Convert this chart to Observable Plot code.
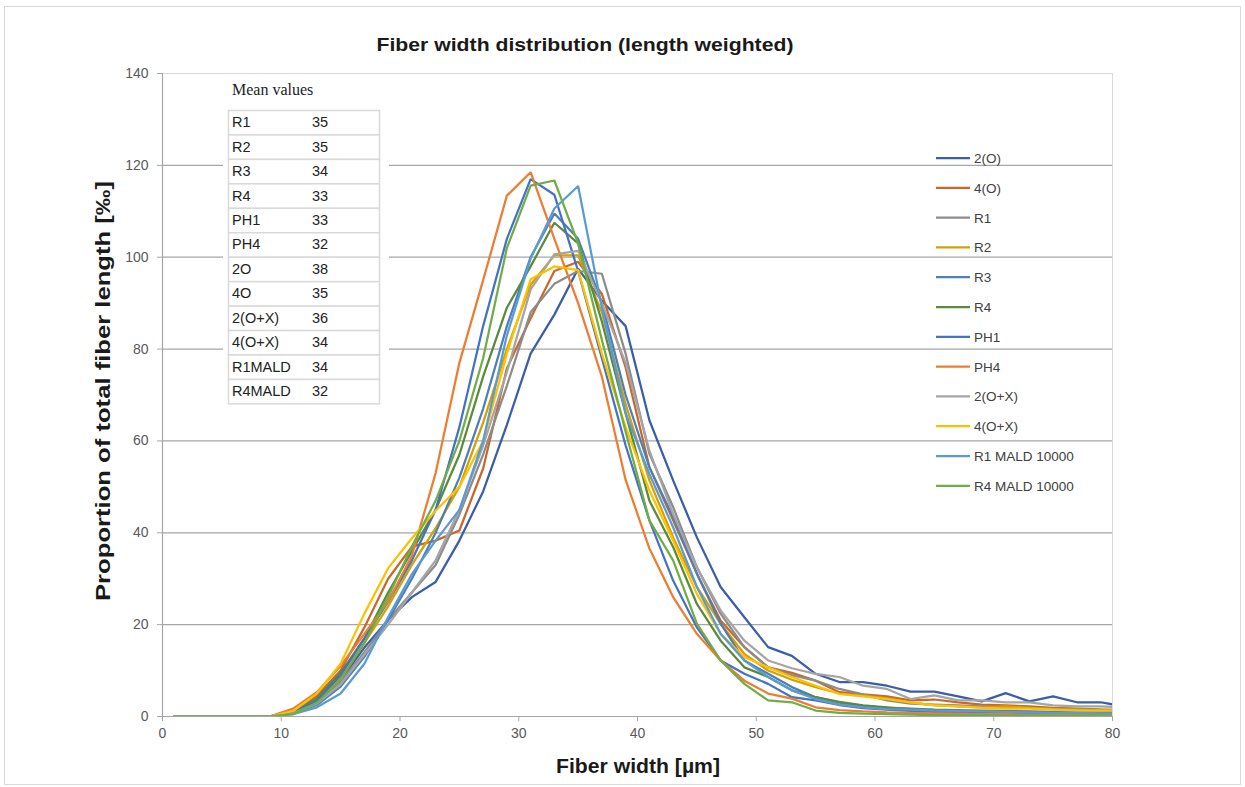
<!DOCTYPE html>
<html><head><meta charset="utf-8">
<script src="https://cdn.jsdelivr.net/npm/d3@7"></script>
<script src="https://cdn.jsdelivr.net/npm/@observablehq/plot@0.6"></script>
<style>body{margin:0;background:#fff;}</style>
</head><body><div id="chart"></div>
<script>
// ---- data ----
const widths = [1,3,5,7,9,11,13,15,17,19,21,23,25,27,29,31,33,35,37,39,41,43,45,47,49,51,53,55,57,59,61,63,65,67,69,71,73,75,77,79,81];
const s2O   = [0,0,0,0,0,0.8,3,8,15,21,26,29.3,38.3,49,63.5,79,87.5,97.5,90.5,85,64.5,51.4,39,28.2,21.6,15.1,13.2,9.3,7.5,7.5,6.7,5.4,5.4,4.4,3.3,5.1,3.3,4.4,3.1,3.1,2.2];
const s4O   = [0,0,0,0,0,1.2,4.5,10,19.4,30,37,38.3,40.5,54,75.8,86.7,97,99,92,76,54.3,42.7,31.1,20.9,15.1,10.7,9.5,7.8,5.3,4.8,4.4,3.5,3.7,3.1,2.6,2.4,2.2,1.9,1.7,1.5,1.4];
const sR1   = [0,0,0,0,0,0.8,3,7.5,14,21,27,33,44,57,72,88,94.2,97,96.4,79,57.2,45.6,32.5,22.4,15.1,10.7,9,7.8,6,4.8,3.5,2.8,2.6,2.4,2.2,2,1.9,1.7,1.6,1.5,1.4];
const sR2   = [0,0,0,0,0,1,3.5,8.5,16,24,33,41,50,64,80,94,100.4,100.4,88,68,51.4,39,28.2,20.2,13.6,10,8,6.4,5,4.5,4,3,2.5,2.2,2,2.2,1.9,1.6,1.5,1.3,1.2];
const sR3   = [0,0,0,0,0,0.7,2.5,6.5,13,21,30,40,52,67,85,100,109.5,104,90,70,54.3,43.4,31.1,20.2,12.2,9.3,6.4,4.2,3,2.3,1.9,1.7,1.5,1.4,1.3,1.2,1.1,1.0,1.0,0.9,0.9];
const sR4   = [0,0,0,0,0,1,4,9.5,17,27,36,45,57,74,89,98,107.5,103,86,66,47,36.9,24.5,16.5,10.7,8.6,5.7,4.2,3.2,2.4,2,1.6,1.4,1.2,1.1,1,0.9,0.8,0.7,0.7,0.6];
const sPH1  = [0,0,0,0,0,0.8,3.5,9,17,25,34,45,63,85,104,117,113.6,97,78,59,42.7,29.6,19.4,12.2,9.3,7.1,4.2,3.5,2.5,1.8,1.5,1.2,1,0.9,0.8,0.8,0.7,0.6,0.5,0.5,0.5];
const sPH4  = [0,0,0,0,0,1.7,5.3,11,18,25,35,53,77,95,113.4,118.5,104,90,74,51.5,36.6,26,18,12.2,7.8,5,3.9,2,1.4,1.1,0.9,0.8,0.7,0.6,0.5,0.5,0.4,0.4,0.3,0.3,0.3];
const s2OX  = [0,0,0,0,0,0.7,2.8,7,13.5,20,27,34,45,59,75,93,100.6,101.4,90,77,57.9,44.1,32.5,23.1,16.5,12.2,10.5,9.3,8.6,6.7,6,3.8,4.6,3.5,3.5,3.1,3.1,2.4,2.2,2.2,2];
const s4OX  = [0,0,0,0,0,1.2,5,11.5,22.4,32.3,38.8,44.8,50,60,79,95.2,98,97.2,79,63,49.2,38.3,26.7,18,12.9,10.7,8.6,6.7,4.9,4.4,3.8,3.1,2.4,2.2,1.9,1.7,1.7,1.5,1.3,1.3,1.2];
const sR1M  = [0,0,0,0,0,0.5,2,5,11.5,21.6,31,38.3,45,60,83,99.7,110.6,115.5,89,66,52.8,41.2,28.2,18,12.2,8.6,5.7,3.8,2.6,2,1.6,1.5,1.3,1.2,1.1,1,0.9,0.8,0.8,0.7,0.7];
const sR4M  = [0,0,0,0,0,0.5,3,8,16,26,37,47,60,78,102,115.6,116.7,103,82,62,42.7,34,20.2,12.2,7.1,3.5,3.1,1.3,0.8,0.6,0.5,0.4,0.3,0.3,0.3,0.2,0.2,0.2,0.2,0.2,0.2];

const seriesNames  = ["2(O)","4(O)","R1","R2","R3","R4","PH1","PH4","2(O+X)","4(O+X)","R1 MALD 10000","R4 MALD 10000"];
const seriesValues = [s2O,s4O,sR1,sR2,sR3,sR4,sPH1,sPH4,s2OX,s4OX,sR1M,sR4M];
const seriesColors = ["#3a5ea8","#c8682c","#8c8c8c","#d3a100","#4e7fb8","#5a8a3a","#4472c4","#ed7d31","#a5a5a5","#ffc000","#5b9bd5","#70ad47"];

const meanLabels = ["R1","R2","R3","R4","PH1","PH4","2O","4O","2(O+X)","4(O+X)","R1MALD","R4MALD"];
const meanValues = [35,35,34,33,33,32,38,35,36,34,34,32];

const yTicks = [0,20,40,60,80,100,120,140];
const xTicks = [0,10,20,30,40,50,60,70,80];

const titleText = "Fiber width distribution (length weighted)";
const xLabel = "Fiber width [µm]";
const yLabel = "Proportion of total fiber length [‰]";
const tableTitle = "Mean values";

// ---- build table for Plot ----
const rows = [];
seriesNames.forEach((name, i) => {
  seriesValues[i].forEach((v, j) => rows.push({series: name, x: widths[j], y: v}));
});

const W = 1245, H = 787;
const chart = Plot.plot({
  width: W, height: H,
  marginLeft: 162, marginRight: 133, marginTop: 73, marginBottom: 71,
  style: {fontFamily: "'Liberation Sans', Arial, sans-serif", fontSize: "14px", background: "white", color: "#595959"},
  x: {domain: [0, 80]},
  y: {domain: [0, 140]},
  color: {domain: seriesNames, range: seriesColors},
  marks: [
    Plot.frame({stroke: "#d9d9d9"}),
    Plot.gridY(yTicks.slice(1, -1), {stroke: "#a6a6a6", strokeOpacity: 1, strokeWidth: 1.2}),
    Plot.ruleX([0], {stroke: "#a6a6a6", strokeWidth: 1.2}),
    Plot.ruleY([0], {stroke: "#a6a6a6", strokeWidth: 1.2}),
    Plot.axisX(xTicks, {tickSize: 5, tickPadding: 7, stroke: "#a6a6a6", fill: "#595959", label: null, fontSize: 14}),
    Plot.axisY(yTicks, {tickSize: 5, tickPadding: 9, stroke: "#a6a6a6", fill: "#595959", label: null, fontSize: 14}),
    Plot.line(rows, {x: "x", y: "y", z: "series", stroke: "series", strokeWidth: 2.25, clip: true, strokeLinejoin: "miter"})
  ]
});
document.getElementById("chart").appendChild(chart);

// ---- annotations ----
const svg = d3.select(chart);
svg.insert("rect", ":first-child")
  .attr("x", 4.5).attr("y", 6.5).attr("width", 1236).attr("height", 778)
  .attr("fill", "white").attr("stroke", "#d9d9d9");

svg.append("text").attr("x", 585).attr("y", 51).attr("text-anchor", "middle")
  .attr("textLength", 417).attr("lengthAdjust", "spacingAndGlyphs")
  .style("font", "bold 19px 'Liberation Sans', Arial, sans-serif").attr("fill", "#1a1a1a").text(titleText);

svg.append("text").attr("x", 638).attr("y", 773).attr("text-anchor", "middle")
  .attr("textLength", 164).attr("lengthAdjust", "spacingAndGlyphs")
  .style("font", "bold 20px 'Liberation Sans', Arial, sans-serif").attr("fill", "#1a1a1a").text(xLabel);

svg.append("text").attr("transform", "translate(110,391) rotate(-90)").attr("text-anchor", "middle")
  .attr("textLength", 420).attr("lengthAdjust", "spacingAndGlyphs")
  .style("font", "bold 21px 'Liberation Sans', Arial, sans-serif").attr("fill", "#1a1a1a").text(yLabel);

// mean values table
const tx0 = 228, tx1 = 379, ty0 = 110, rowH = 24.45;
svg.append("rect").attr("x", 223).attr("y", 74).attr("width", 166).attr("height", 338).attr("fill", "white");
svg.append("text").attr("x", 232).attr("y", 95).attr("text-anchor", "start")
  .style("font", "16px 'Liberation Serif', 'Times New Roman', serif").attr("fill", "#222").text(tableTitle);
const tg = svg.append("g").attr("text-anchor", "start");
meanLabels.forEach((lab, i) => {
  const y = ty0 + i * rowH;
  tg.append("rect").attr("x", tx0 + 0.5).attr("y", y + 0.5).attr("width", tx1 - tx0).attr("height", rowH)
    .attr("fill", "white").attr("stroke", "#d9d9d9").attr("stroke-width", 1.5);
  tg.append("text").attr("x", tx0 + 4).attr("y", y + rowH / 2 + 5).attr("text-anchor", "start")
    .style("font", "14.5px 'Liberation Sans', Arial, sans-serif").attr("fill", "#222").text(lab);
  tg.append("text").attr("x", tx0 + 84).attr("y", y + rowH / 2 + 5).attr("text-anchor", "start")
    .style("font", "14.5px 'Liberation Sans', Arial, sans-serif").attr("fill", "#222").text(meanValues[i]);
});

// legend
const lg = svg.append("g").attr("text-anchor", "start");
const ly0 = 158, lstep = 29.8;
seriesNames.forEach((name, i) => {
  const y = ly0 + i * lstep;
  lg.append("line").attr("x1", 936).attr("x2", 970).attr("y1", y).attr("y2", y)
    .attr("stroke", seriesColors[i]).attr("stroke-width", 2.25);
  lg.append("text").attr("x", 974).attr("y", y + 5).attr("text-anchor", "start")
    .style("font", "13.5px 'Liberation Sans', Arial, sans-serif").attr("fill", "#404040").text(name);
});
</script>
</body></html>
